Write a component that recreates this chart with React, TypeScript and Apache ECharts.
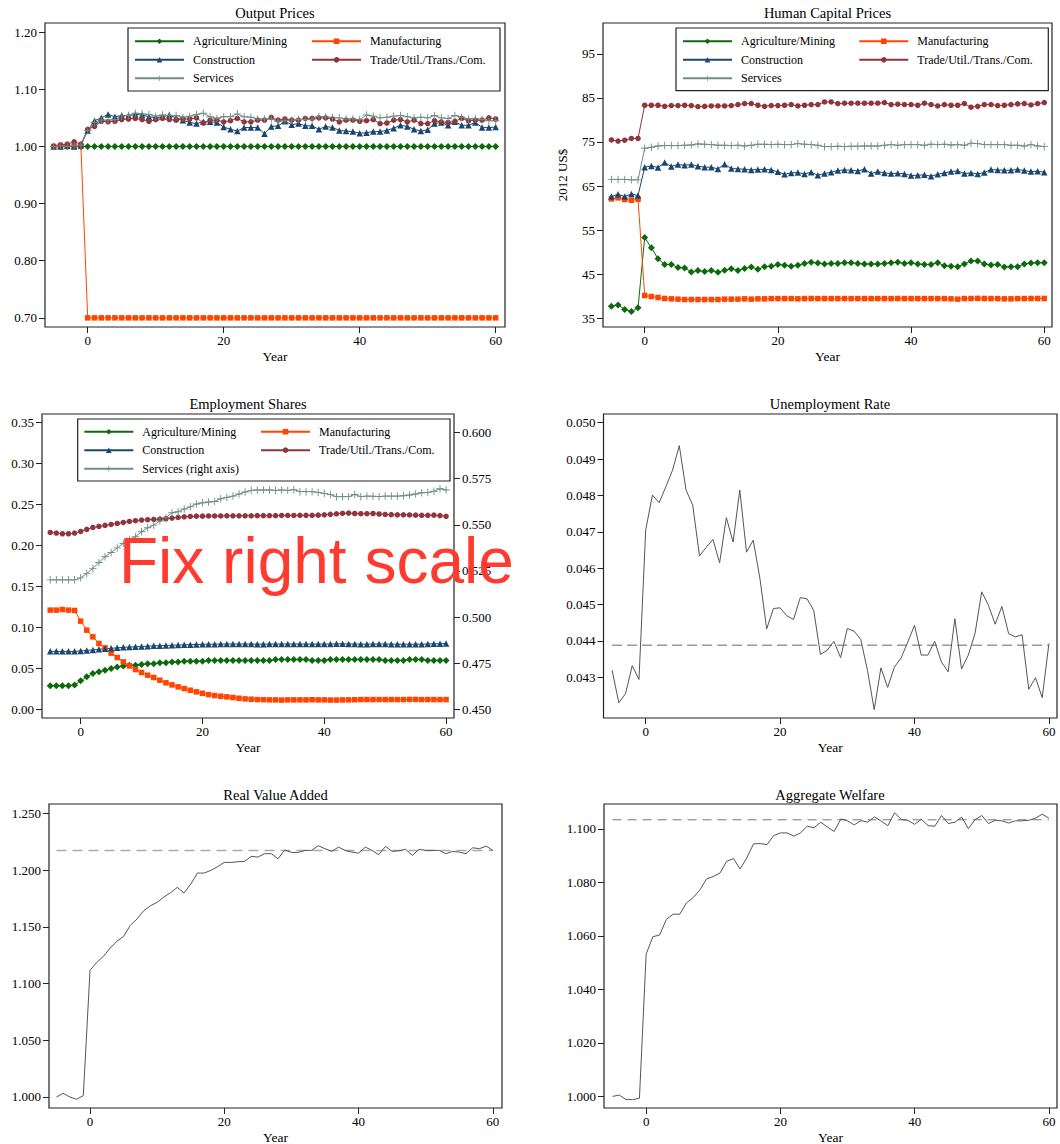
import React, { useEffect, useRef } from "react";
import * as echarts from "echarts";

// ---------- DATA ----------
const years = [-5, -4, -3, -2, -1, 0, 1, 2, 3, 4, 5, 6, 7, 8, 9, 10, 11, 12, 13, 14, 15, 16, 17, 18, 19, 20, 21, 22, 23, 24, 25, 26, 27, 28, 29, 30, 31, 32, 33, 34, 35, 36, 37, 38, 39, 40, 41, 42, 43, 44, 45, 46, 47, 48, 49, 50, 51, 52, 53, 54, 55, 56, 57, 58, 59, 60];
const xTicks = [0, 20, 40, 60];

// Output prices
const opAgri = [1, 1, 1, 1, 1, 1, 1, 1, 1, 1, 1, 1, 1, 1, 1, 1, 1, 1, 1, 1, 1, 1, 1, 1, 1, 1, 1, 1, 1, 1, 1, 1, 1, 1, 1, 1, 1, 1, 1, 1, 1, 1, 1, 1, 1, 1, 1, 1, 1, 1, 1, 1, 1, 1, 1, 1, 1, 1, 1, 1, 1, 1, 1, 1, 1, 1];
const opManu = [1, 1, 1, 1, 1, 0.7, 0.7, 0.7, 0.7, 0.7, 0.7, 0.7, 0.7, 0.7, 0.7, 0.7, 0.7, 0.7, 0.7, 0.7, 0.7, 0.7, 0.7, 0.7, 0.7, 0.7, 0.7, 0.7, 0.7, 0.7, 0.7, 0.7, 0.7, 0.7, 0.7, 0.7, 0.7, 0.7, 0.7, 0.7, 0.7, 0.7, 0.7, 0.7, 0.7, 0.7, 0.7, 0.7, 0.7, 0.7, 0.7, 0.7, 0.7, 0.7, 0.7, 0.7, 0.7, 0.7, 0.7, 0.7, 0.7, 0.7, 0.7, 0.7, 0.7, 0.7];
const opCons = [1.000, 1.000, 1.001, 1.000, 1.002,
  1.028, 1.045, 1.050, 1.056, 1.052, 1.054, 1.054, 1.056, 1.055, 1.052,
  1.050, 1.052, 1.055, 1.050, 1.046, 1.042, 1.040, 1.043, 1.043, 1.042,
  1.034, 1.030, 1.027, 1.033, 1.033, 1.033, 1.022, 1.035, 1.036, 1.044,
  1.038, 1.040, 1.036, 1.036, 1.030, 1.035, 1.033, 1.028, 1.027, 1.026,
  1.023, 1.024, 1.026, 1.026, 1.028, 1.032, 1.037, 1.035, 1.030, 1.027,
  1.029, 1.040, 1.042, 1.037, 1.043, 1.037, 1.037, 1.042, 1.033, 1.033, 1.034];
const opTrade = [1.000, 1.003, 1.004, 1.008, 1.004,
  1.030, 1.035, 1.044, 1.043, 1.044, 1.047, 1.048, 1.049, 1.047, 1.044,
  1.047, 1.049, 1.047, 1.046, 1.048, 1.048, 1.050, 1.041, 1.046, 1.046,
  1.043, 1.045, 1.049, 1.043, 1.043, 1.046, 1.046, 1.051, 1.046, 1.048,
  1.046, 1.046, 1.049, 1.049, 1.050, 1.050, 1.048, 1.043, 1.046, 1.046,
  1.044, 1.045, 1.047, 1.040, 1.041, 1.046, 1.047, 1.043, 1.046, 1.040,
  1.040, 1.045, 1.043, 1.042, 1.044, 1.049, 1.045, 1.046, 1.046, 1.050, 1.048];
const opServ = [1.000, 1.001, 1.000, 1.001, 1.002,
  1.028, 1.042, 1.046, 1.046, 1.047, 1.053, 1.054, 1.058, 1.057, 1.056,
  1.053, 1.055, 1.054, 1.054, 1.051, 1.053, 1.056, 1.058, 1.052, 1.049,
  1.052, 1.052, 1.057, 1.052, 1.051, 1.048, 1.048, 1.048, 1.044, 1.045,
  1.046, 1.047, 1.047, 1.048, 1.052, 1.052, 1.050, 1.050, 1.048, 1.048,
  1.047, 1.055, 1.053, 1.050, 1.051, 1.053, 1.054, 1.052, 1.050, 1.051,
  1.050, 1.054, 1.050, 1.049, 1.054, 1.051, 1.048, 1.049, 1.047, 1.045, 1.045];
const opTicks = [0.7, 0.8, 0.9, 1.0, 1.1, 1.2];

// Human capital prices (2012 US$)
const hcAgri = [37.7, 38.0, 37.0, 36.5, 37.35,
  53.3, 51.0, 48.5, 47.2, 47.2, 46.5, 46.4, 45.5, 45.8, 45.6,
  45.8, 45.4, 45.9, 46.2, 45.8, 46.3, 46.6, 46.1, 46.7, 46.8,
  47.2, 47.0, 46.8, 47.0, 47.4, 47.7, 47.5, 47.3, 47.4, 47.4,
  47.6, 47.6, 47.4, 47.3, 47.3, 47.3, 47.4, 47.6, 47.7, 47.4,
  47.6, 47.3, 47.2, 47.2, 47.6, 46.9, 46.8, 46.7, 47.3, 48.0,
  48.0, 47.3, 47.1, 47.2, 46.6, 46.7, 46.7, 47.3, 47.5, 47.6, 47.6];
const hcManu = [62.08, 62.31, 61.93, 61.78, 62.0,
  40.15, 39.92, 39.7, 39.47, 39.39, 39.32, 39.24, 39.24, 39.24, 39.24,
  39.24, 39.24, 39.32, 39.32, 39.32, 39.39, 39.32, 39.39, 39.39, 39.45,
  39.45, 39.45, 39.45, 39.39, 39.45, 39.47, 39.45, 39.45, 39.45, 39.45,
  39.45, 39.45, 39.45, 39.45, 39.45, 39.45, 39.45, 39.45, 39.47, 39.45,
  39.45, 39.45, 39.45, 39.45, 39.45, 39.45, 39.39, 39.32, 39.45, 39.47,
  39.5, 39.47, 39.45, 39.45, 39.39, 39.39, 39.45, 39.45, 39.47, 39.47, 39.47];
const hcCons = [62.61, 63.14, 62.61, 63.21, 62.84,
  69.27, 69.57, 69.19, 70.33, 69.42, 69.87, 69.72, 69.87, 69.49, 69.27,
  69.27, 68.89, 69.95, 68.96, 68.89, 68.81, 68.66, 68.74, 68.81, 68.66,
  68.21, 67.68, 67.98, 68.06, 67.75, 68.13, 67.45, 67.83, 68.13, 68.51,
  68.66, 68.59, 68.43, 68.81, 67.83, 68.28, 67.98, 67.83, 67.9, 67.75,
  67.38, 67.45, 67.53, 67.22, 67.68, 67.98, 68.28, 68.43, 67.83, 67.98,
  67.75, 68.06, 68.74, 68.66, 68.59, 68.59, 68.74, 68.51, 68.28, 68.36, 68.13];
const hcTrade = [75.45, 75.2, 75.4, 75.8, 75.8,
  83.33, 83.33, 83.33, 83.1, 83.26, 83.26, 83.33, 83.26, 83.03, 83.1,
  83.18, 83.18, 83.18, 83.26, 83.48, 83.71, 83.71, 83.33, 83.1, 83.26,
  83.26, 83.33, 83.48, 83.18, 83.33, 83.48, 83.48, 84.09, 84.09, 83.71,
  83.79, 83.79, 83.79, 83.79, 83.79, 83.79, 83.94, 83.48, 83.56, 83.48,
  83.48, 83.33, 83.79, 83.48, 83.18, 83.48, 83.33, 83.33, 83.71, 82.88,
  83.1, 83.48, 83.48, 83.26, 83.33, 83.48, 83.64, 83.71, 83.41, 83.71, 83.94];
const hcServ = [66.5, 66.5, 66.5, 66.4, 66.4,
  73.56, 73.79, 74.09, 74.17, 74.17, 74.17, 74.24, 74.32, 74.55, 74.47,
  74.39, 74.24, 74.24, 74.17, 74.24, 74.09, 74.24, 74.47, 74.47, 74.39,
  74.47, 74.39, 74.39, 74.62, 74.47, 74.39, 74.24, 73.94, 73.94, 74.02,
  73.94, 74.02, 74.02, 74.09, 74.09, 74.09, 74.24, 74.39, 74.24, 74.39,
  74.39, 74.39, 74.24, 74.47, 74.39, 74.47, 74.32, 74.39, 74.24, 74.7,
  74.62, 74.39, 74.39, 74.39, 74.39, 74.24, 74.24, 74.09, 74.39, 74.09, 73.94];
const hcTicks = [35, 45, 55, 65, 75, 85, 95];

// Employment shares
const esAgri = [0.029, 0.029, 0.029, 0.029, 0.030,
  0.035, 0.040, 0.044, 0.046, 0.048, 0.050, 0.052, 0.053, 0.054, 0.054,
  0.055, 0.056, 0.056, 0.057, 0.057, 0.058, 0.058, 0.059, 0.059, 0.059,
  0.059, 0.060, 0.060, 0.060, 0.060, 0.060, 0.060, 0.060, 0.060, 0.060,
  0.060, 0.060, 0.061, 0.061, 0.061, 0.061, 0.061, 0.061, 0.060, 0.060,
  0.060, 0.061, 0.061, 0.061, 0.061, 0.061, 0.061, 0.061, 0.061, 0.061,
  0.060, 0.060, 0.060, 0.060, 0.061, 0.061, 0.061, 0.060, 0.060, 0.060, 0.060];
const esManu = [0.1213, 0.1213, 0.1221, 0.1213, 0.1209,
  0.1079, 0.0969, 0.0887, 0.0806, 0.0753, 0.0688, 0.0635, 0.0582, 0.0533, 0.0488,
  0.0452, 0.0419, 0.0391, 0.0358, 0.0326, 0.0301, 0.0277, 0.0256, 0.0236, 0.0216,
  0.0199, 0.0183, 0.0171, 0.0163, 0.0155, 0.0147, 0.0138, 0.0130, 0.0126, 0.0122,
  0.0120, 0.0118, 0.0118, 0.0116, 0.0118, 0.0118, 0.0118, 0.0118, 0.0120, 0.0118,
  0.0118, 0.0116, 0.0116, 0.0118, 0.0118, 0.0120, 0.0122, 0.0122, 0.0122, 0.0122,
  0.0122, 0.0122, 0.0122, 0.0122, 0.0124, 0.0124, 0.0122, 0.0122, 0.0122, 0.0122, 0.0122];
const esCons = [0.071, 0.071, 0.071, 0.071, 0.071,
  0.0715, 0.0722, 0.0727, 0.0735, 0.0743, 0.0747, 0.0753, 0.0759, 0.0762, 0.0766,
  0.0770, 0.0773, 0.0777, 0.0780, 0.0782, 0.0785, 0.0787, 0.0790, 0.0792, 0.0794,
  0.0796, 0.0797, 0.0798, 0.0799, 0.0800, 0.0800, 0.0800, 0.0800, 0.0800, 0.0798,
  0.0798, 0.0800, 0.0800, 0.0800, 0.0800, 0.0800, 0.0800, 0.0800, 0.0800, 0.0800,
  0.0800, 0.0800, 0.0802, 0.0802, 0.0800, 0.0800, 0.0798, 0.0798, 0.0800, 0.0800,
  0.0800, 0.0798, 0.0797, 0.0797, 0.0797, 0.0798, 0.0798, 0.0800, 0.0802, 0.0803, 0.0805];
const esTrade = [0.2161, 0.2153, 0.2145, 0.2145, 0.2153,
  0.2173, 0.2198, 0.2222, 0.2234, 0.2247, 0.2259, 0.2271, 0.2283, 0.2295, 0.2304,
  0.2312, 0.2316, 0.2320, 0.2324, 0.2328, 0.2336, 0.2344, 0.2352, 0.2356, 0.2360,
  0.2360, 0.2362, 0.2362, 0.2362, 0.2364, 0.2364, 0.2364, 0.2364, 0.2364, 0.2366,
  0.2366, 0.2366, 0.2366, 0.2368, 0.2368, 0.2368, 0.2370, 0.2370, 0.2370, 0.2372,
  0.2376, 0.2382, 0.2388, 0.2394, 0.2397, 0.2392, 0.2390, 0.2390, 0.2392, 0.2386,
  0.2380, 0.2378, 0.2376, 0.2376, 0.2374, 0.2372, 0.2370, 0.2370, 0.2372, 0.2366, 0.2358];
const esServ = [0.5202, 0.5202, 0.5202, 0.5202, 0.5202,
  0.5213, 0.5236, 0.5264, 0.5296, 0.5327, 0.5350, 0.5375, 0.5399, 0.5420, 0.5435,
  0.5462, 0.5484, 0.5498, 0.5520, 0.5538, 0.5565, 0.5570, 0.5585, 0.5597, 0.5612,
  0.5619, 0.5623, 0.5626, 0.5641, 0.5648, 0.5655, 0.5666, 0.5677, 0.5686, 0.5688,
  0.5688, 0.5688, 0.5686, 0.5688, 0.5686, 0.5690, 0.5679, 0.5679, 0.5679, 0.5675,
  0.5670, 0.5663, 0.5652, 0.5652, 0.5652, 0.5664, 0.5652, 0.5655, 0.5654, 0.5652,
  0.5655, 0.5655, 0.5655, 0.5657, 0.5661, 0.5666, 0.5673, 0.5675, 0.5681, 0.5695, 0.5688];
const esTicksLeft = [0, 0.05, 0.1, 0.15, 0.2, 0.25, 0.3, 0.35];
const esTicksRight = [0.45, 0.475, 0.5, 0.525, 0.55, 0.575, 0.6];

// Unemployment rate
const unemp = [0.04319, 0.04230, 0.04255, 0.04332, 0.04294,
  0.04705, 0.04801, 0.04780, 0.04824, 0.04870, 0.04937, 0.04815, 0.04773, 0.04634, 0.04657,
  0.04679, 0.04615, 0.04739, 0.04672, 0.04815, 0.04644, 0.04677, 0.04571, 0.04433, 0.04489,
  0.04491, 0.04469, 0.04459, 0.04519, 0.04516, 0.04484, 0.04363, 0.04374, 0.04399, 0.04354,
  0.04434, 0.04427, 0.04404, 0.04319, 0.04211, 0.04326, 0.04272, 0.04328, 0.04353, 0.04397,
  0.04443, 0.04361, 0.04361, 0.04399, 0.04342, 0.04315, 0.04461, 0.04323, 0.04361, 0.04420,
  0.04535, 0.04498, 0.04446, 0.04495, 0.04420, 0.04411, 0.04417, 0.04267, 0.04299, 0.04244, 0.04393];
const unempRef = 0.04388;
const unempTicks = [0.043, 0.044, 0.045, 0.046, 0.047, 0.048, 0.049, 0.05];

// Real value added
const rva = [1.000, 1.0032, 1.000, 0.998, 1.0012,
  1.1116, 1.1187, 1.124, 1.1313, 1.1372, 1.1416, 1.1513, 1.1569, 1.1642, 1.1686,
  1.1716, 1.1763, 1.1801, 1.1848, 1.1798, 1.1877, 1.1974, 1.1974, 1.1998, 1.203,
  1.2068, 1.2068, 1.2074, 1.2077, 1.2121, 1.2115, 1.2145, 1.2145, 1.2100, 1.2177,
  1.2156, 1.2156, 1.2174, 1.2174, 1.2215, 1.2189, 1.2165, 1.2203, 1.2174, 1.2159,
  1.2150, 1.2203, 1.2174, 1.2136, 1.2209, 1.2165, 1.2171, 1.2183, 1.2130, 1.2183,
  1.2174, 1.2174, 1.2174, 1.2145, 1.2165, 1.2159, 1.2145, 1.2197, 1.2189, 1.2212, 1.2174];
const rvaRef = 1.2174;
const rvaTicks = [1.0, 1.05, 1.1, 1.15, 1.2, 1.25];

// Aggregate welfare
const welfare = [1.0000, 1.0005, 0.9988, 0.9988, 0.9993,
  1.0532, 1.0597, 1.0603, 1.0661, 1.0681, 1.0681, 1.0723, 1.0743, 1.0772, 1.0813,
  1.0822, 1.0835, 1.0879, 1.0889, 1.0850, 1.0892, 1.0944, 1.0945, 1.0941, 1.0975,
  1.0985, 1.0985, 1.0973, 1.0985, 1.1010, 1.1004, 1.1025, 1.1007, 1.0990, 1.1037,
  1.1030, 1.1015, 1.1031, 1.1025, 1.1045, 1.1029, 1.1012, 1.1060, 1.1035, 1.1032,
  1.1017, 1.1036, 1.1012, 1.1010, 1.1050, 1.1020, 1.1025, 1.1044, 1.1001, 1.1035,
  1.1050, 1.1020, 1.1032, 1.1030, 1.1022, 1.1030, 1.1030, 1.1032, 1.1040, 1.1055, 1.1040];
const welfareRef = 1.1034;
const welfareTicks = [1.0, 1.02, 1.04, 1.06, 1.08, 1.1];

// ---------- STYLE ----------
const SERIF = "'Liberation Serif', 'Times New Roman', serif";
const SANS = "'Liberation Sans', Arial, sans-serif";
const C_AGRI = "#0c6a0c";
const C_MANU = "#ff4500";
const C_CONS = "#1a476f";
const C_TRADE = "#90353b";
const C_SERV = "#6e8e84";
const PLUS = "path://M4.4,0H5.6V4.4H10V5.6H5.6V10H4.4V5.6H0V4.4H4.4Z";

const N_AGRI = "Agriculture/Mining";
const N_MANU = "Manufacturing";
const N_CONS = "Construction";
const N_TRADE = "Trade/Util./Trans./Com.";
const N_SERV = "Services";
const N_SERV_R = "Services (right axis)";

const panels = [
  { title: "Output Prices", cx: 275, ty: 12.7, grid: { left: 45, top: 23, width: 460, height: 304 }, xMin: -6.28, xMax: 61.37 },
  { title: "Human Capital Prices", cx: 827.5, ty: 12.7, grid: { left: 603, top: 23, width: 449, height: 304 }, xMin: -6.26, xMax: 61.16 },
  { title: "Employment Shares", cx: 248, ty: 403.5, grid: { left: 42, top: 414, width: 412, height: 304 }, xMin: -6.35, xMax: 61.3 },
  { title: "Unemployment Rate", cx: 830, ty: 403.5, grid: { left: 603.5, top: 414, width: 453.5, height: 304 }, xMin: -6.28, xMax: 61.2 },
  { title: "Real Value Added", cx: 275.5, ty: 794.7, grid: { left: 49, top: 804, width: 453, height: 304 }, xMin: -6.11, xMax: 61.36 },
  { title: "Aggregate Welfare", cx: 830, ty: 794.7, grid: { left: 604, top: 804, width: 453, height: 304 }, xMin: -6.28, xMax: 61.2 },
];

const tickStyle = { show: true, inside: false, length: 6, lineStyle: { color: "#222", width: 1 } };
const labelFont = { fontFamily: SERIF, fontSize: 13, color: "#000" };

function makeY(gridIndex: number, min: number, max: number, ticks: number[], dec: number, extra: any = {}) {
  return {
    type: "value",
    gridIndex,
    min,
    max,
    axisLine: { show: false, onZero: false },
    axisTick: { ...tickStyle, customValues: ticks },
    axisLabel: { ...labelFont, margin: 8, customValues: ticks, formatter: (v: number) => v.toFixed(dec) },
    splitLine: { show: false },
    ...extra,
  };
}

function makeX(gridIndex: number, min: number, max: number) {
  return {
    type: "value",
    gridIndex,
    min,
    max,
    axisLine: { show: false, onZero: false },
    axisTick: { ...tickStyle, customValues: xTicks },
    axisLabel: { ...labelFont, margin: 7, customValues: xTicks, formatter: (v: number) => String(v) },
    splitLine: { show: false },
    name: "Year",
    nameLocation: "middle",
    nameGap: 22,
    nameTextStyle: { fontFamily: SERIF, fontSize: 13.5, color: "#000" },
  };
}

function pts(vals: number[]) {
  return years.map((t, i) => [t, vals[i]]);
}

function marked(name: string, vals: number[], color: string, symbol: string, size: number, xi: number, yi: number) {
  return {
    type: "line",
    name,
    xAxisIndex: xi,
    yAxisIndex: yi,
    data: pts(vals),
    symbol,
    symbolSize: size,
    showSymbol: true,
    lineStyle: { color, width: 1 },
    itemStyle: { color, borderWidth: 0 },
    emphasis: { disabled: true },
    silent: true,
  };
}

function plain(vals: number[], xi: number, yi: number) {
  return {
    type: "line",
    xAxisIndex: xi,
    yAxisIndex: yi,
    data: pts(vals),
    symbol: "none",
    lineStyle: { color: "#555", width: 1 },
    emphasis: { disabled: true },
    silent: true,
    z: 3,
  };
}

function refLine(v: number, xi: number, yi: number, color: string, width: number, dash: number[]) {
  return {
    type: "line",
    xAxisIndex: xi,
    yAxisIndex: yi,
    data: [[years[0], v], [years[years.length - 1], v]],
    symbol: "none",
    lineStyle: { color, width, type: dash },
    emphasis: { disabled: true },
    silent: true,
    z: 2,
  };
}

function buildOption() {
  const grids = panels.map((p) => ({
    ...p.grid,
    show: true,
    borderColor: "#222",
    borderWidth: 1.2,
    backgroundColor: "transparent",
    containLabel: false,
    outerBoundsMode: "none",
  }));

  const xAxes = panels.map((p, i) => makeX(i, p.xMin, p.xMax));

  const yAxes = [
    makeY(0, 0.684, 1.216, opTicks, 2),
    makeY(1, 33.0, 102.0, hcTicks, 0, {
      name: "2012 US$",
      nameLocation: "middle",
      nameGap: 34,
      nameTextStyle: { fontFamily: SERIF, fontSize: 13, color: "#000" },
    }),
    makeY(2, -0.0103, 0.3606, esTicksLeft, 2),
    makeY(2, 0.4455, 0.6099, esTicksRight, 3, { position: "right" }),
    makeY(3, 0.04188, 0.05024, unempTicks, 3),
    makeY(4, 0.9903, 1.2583, rvaTicks, 3),
    makeY(5, 0.99566, 1.1093, welfareTicks, 3),
  ];

  const series: any[] = [
    marked(N_AGRI, opAgri, C_AGRI, "diamond", 7, 0, 0),
    marked(N_MANU, opManu, C_MANU, "rect", 5.5, 0, 0),
    marked(N_CONS, opCons, C_CONS, "triangle", 6.5, 0, 0),
    marked(N_TRADE, opTrade, C_TRADE, "circle", 5.5, 0, 0),
    marked(N_SERV, opServ, C_SERV, PLUS, 7.5, 0, 0),

    marked(N_AGRI, hcAgri, C_AGRI, "diamond", 7, 1, 1),
    marked(N_MANU, hcManu, C_MANU, "rect", 5.5, 1, 1),
    marked(N_CONS, hcCons, C_CONS, "triangle", 6.5, 1, 1),
    marked(N_TRADE, hcTrade, C_TRADE, "circle", 5.5, 1, 1),
    marked(N_SERV, hcServ, C_SERV, PLUS, 7.5, 1, 1),

    marked(N_AGRI, esAgri, C_AGRI, "diamond", 7, 2, 2),
    marked(N_MANU, esManu, C_MANU, "rect", 5.5, 2, 2),
    marked(N_CONS, esCons, C_CONS, "triangle", 6.5, 2, 2),
    marked(N_TRADE, esTrade, C_TRADE, "circle", 5.5, 2, 2),
    marked(N_SERV_R, esServ, C_SERV, PLUS, 7.5, 2, 3),

    refLine(unempRef, 3, 4, "#999", 1.3, [10, 5]),
    plain(unemp, 3, 4),
    refLine(rvaRef, 4, 5, "#aaa", 1.5, [10, 6]),
    plain(rva, 4, 5),
    refLine(welfareRef, 5, 6, "#777", 1, [9, 6]),
    plain(welfare, 5, 6),
  ];

  const legendBase = {
    orient: "vertical",
    selectedMode: false,
    itemWidth: 49,
    itemHeight: 7,
    itemGap: 6.5,
    padding: 0,
    textStyle: { fontFamily: SERIF, fontSize: 12, color: "#000", padding: [0, 0, 0, 4] },
  };
  const legend = [
    { ...legendBase, left: 134, top: 35.3, data: [N_AGRI, N_CONS, N_SERV] },
    { ...legendBase, left: 311, top: 35.3, data: [N_MANU, N_TRADE] },
    { ...legendBase, left: 682, top: 35.3, data: [N_AGRI, N_CONS, N_SERV] },
    { ...legendBase, left: 858.3, top: 35.3, data: [N_MANU, N_TRADE] },
    { ...legendBase, left: 83.3, top: 425.7, data: [N_AGRI, N_CONS, N_SERV_R] },
    { ...legendBase, left: 260, top: 425.7, data: [N_MANU, N_TRADE] },
  ];

  const graphic: any[] = [];
  panels.forEach((p) => {
    graphic.push({
      type: "text",
      x: p.cx,
      y: p.ty,
      silent: true,
      style: {
        text: p.title,
        fontFamily: SERIF,
        fontSize: 14.5,
        fill: "#000",
        align: "center",
        verticalAlign: "middle",
      },
    });
  });
  const boxes = [
    { x: 128, y: 28, w: 372, h: 63 },
    { x: 676, y: 28, w: 372.3, h: 62.7 },
    { x: 77.7, y: 419, w: 372.3, h: 62 },
  ];
  boxes.forEach((b) => {
    graphic.push({
      type: "rect",
      silent: true,
      shape: { x: b.x, y: b.y, width: b.w, height: b.h },
      style: { fill: "none", stroke: "#222", lineWidth: 1.2 },
      z: 5,
    });
  });
  graphic.push({
    type: "text",
    x: 119,
    y: 560.5,
    z: 100,
    silent: true,
    style: {
      text: "Fix right scale",
      fontFamily: SANS,
      fontSize: 64,
      fill: "#ff3b30",
      align: "left",
      verticalAlign: "middle",
    },
  });

  return {
    animation: false,
    backgroundColor: "#fff",
    grid: grids,
    xAxis: xAxes,
    yAxis: yAxes,
    series,
    legend,
    graphic,
  };
}

export default function App() {
  const ref = useRef<HTMLDivElement>(null);
  useEffect(() => {
    if (!ref.current) return;
    const chart = echarts.init(ref.current, null, { renderer: "svg" });
    chart.setOption(buildOption() as any);
    return () => chart.dispose();
  }, []);
  return (
    <div
      ref={ref}
      style={{ position: "fixed", left: 0, top: 0, width: 1060, height: 1144, background: "#fff" }}
    />
  );
}
